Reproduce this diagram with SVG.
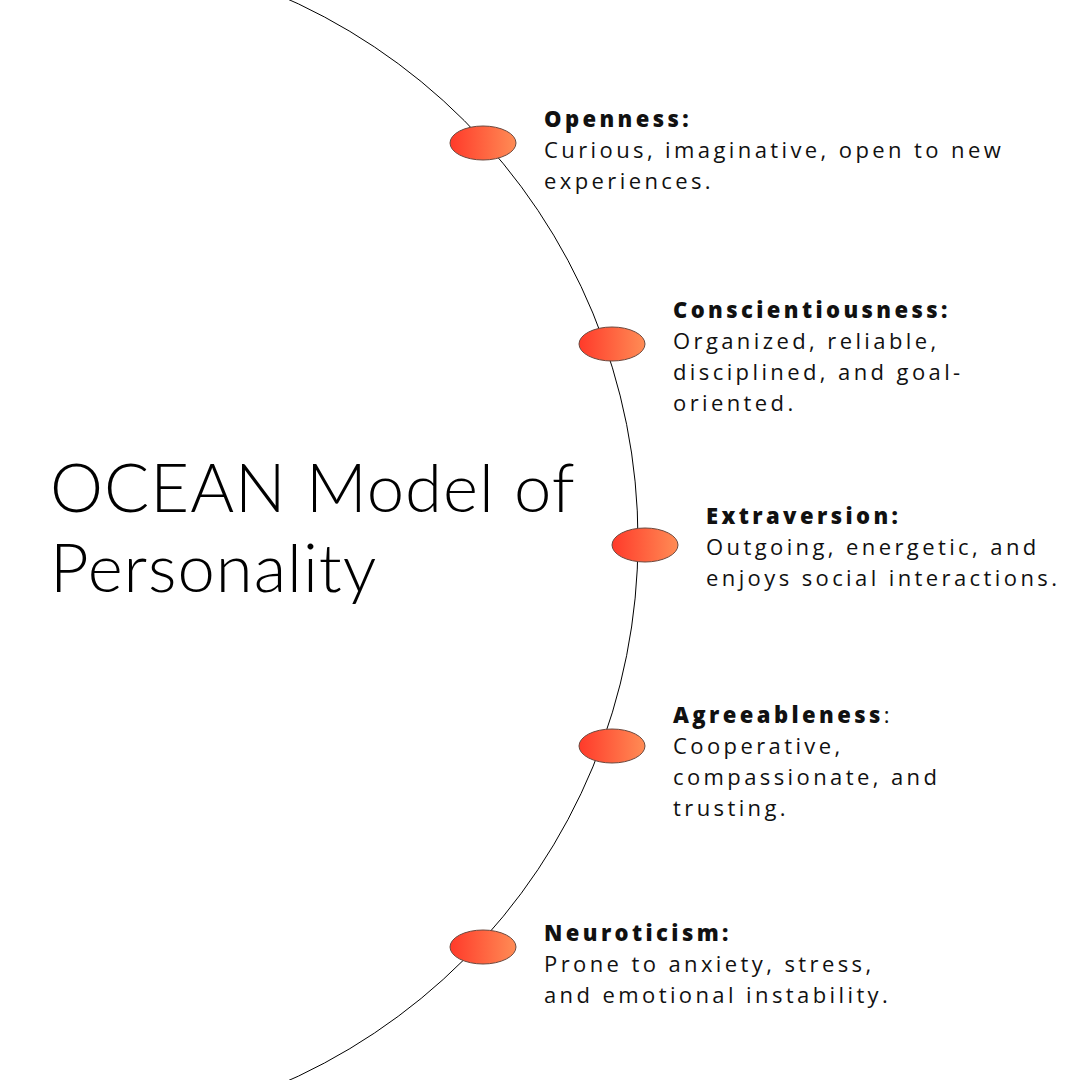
<svg xmlns="http://www.w3.org/2000/svg" width="1080" height="1080" viewBox="0 0 1080 1080">
<defs>
<linearGradient id="g" x1="0" x2="1" y1="0" y2="0"><stop offset="0" stop-color="#ff3a2a"/><stop offset="1" stop-color="#ff8c55"/></linearGradient>
<style>
.dot{fill:url(#g);stroke:#6b4a40;stroke-width:1}
.t{font-family:"Open Sans","DejaVu Sans",sans-serif;font-size:22px;letter-spacing:3.4px;fill:#111}
.b{font-weight:800}
.title{font-family:"Lato","Open Sans",sans-serif;font-size:67px;font-weight:300;letter-spacing:1px;fill:#000}
</style>
</defs>
<rect width="1080" height="1080" fill="#fff"/>
<g id="connectors"><circle cx="45" cy="540" r="593" fill="none" stroke="#000" stroke-width="1"/></g>
<g id="title"><text class="title" x="50" y="512">OCEAN Model of</text><text class="title" x="50" y="592">Personality</text></g>
<g id="openness"><ellipse class="dot" cx="483" cy="143" rx="33" ry="17"/>
<text class="t" x="544" y="127"><tspan class="b">Openness:</tspan><tspan x="544" dy="31">Curious, imaginative, open to new</tspan><tspan x="544" dy="31">experiences.</tspan></text></g>
<g id="conscientiousness"><ellipse class="dot" cx="612" cy="344" rx="33" ry="17"/>
<text class="t" x="673" y="318"><tspan class="b">Conscientiousness:</tspan><tspan x="673" dy="31">Organized, reliable,</tspan><tspan x="673" dy="31">disciplined, and goal-</tspan><tspan x="673" dy="31">oriented.</tspan></text></g>
<g id="extraversion"><ellipse class="dot" cx="645" cy="545" rx="33" ry="17"/>
<text class="t" x="706" y="524"><tspan class="b">Extraversion:</tspan><tspan x="706" dy="31">Outgoing, energetic, and</tspan><tspan x="706" dy="31">enjoys social interactions.</tspan></text></g>
<g id="agreeableness"><ellipse class="dot" cx="612" cy="746" rx="33" ry="17"/>
<text class="t" x="673" y="723"><tspan class="b">Agreeableness</tspan>:<tspan x="673" dy="31">Cooperative,</tspan><tspan x="673" dy="31">compassionate, and</tspan><tspan x="673" dy="31">trusting.</tspan></text></g>
<g id="neuroticism"><ellipse class="dot" cx="483" cy="947" rx="33" ry="17"/>
<text class="t" x="544" y="941"><tspan class="b">Neuroticism:</tspan><tspan x="544" dy="31">Prone to anxiety, stress,</tspan><tspan x="544" dy="31">and emotional instability.</tspan></text></g>
</svg>
